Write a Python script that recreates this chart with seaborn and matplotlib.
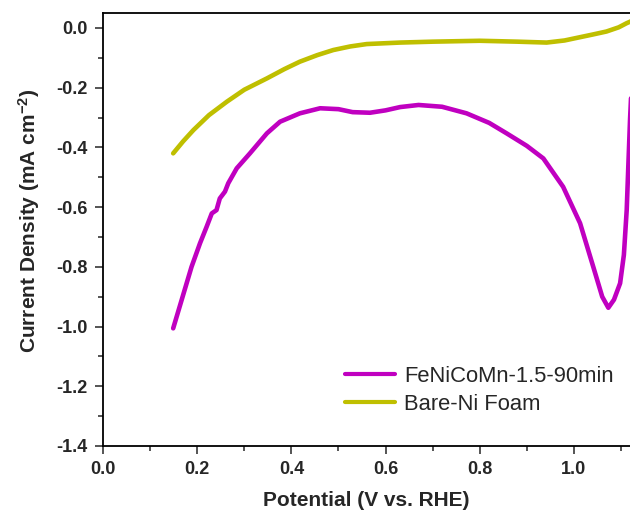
import matplotlib
matplotlib.use("Agg")
import matplotlib.pyplot as plt
import numpy as np
import pandas as pd
import seaborn as sns
from matplotlib.ticker import MultipleLocator

# LSV curves
fenicomn_x = [0.149, 0.167, 0.188, 0.206, 0.220, 0.231, 0.241, 0.248, 0.259, 0.266,
              0.284, 0.312, 0.348, 0.376, 0.418, 0.461, 0.500, 0.530, 0.567, 0.600,
              0.631, 0.670, 0.720, 0.772, 0.820, 0.857, 0.900, 0.935, 0.977, 1.013,
              1.041, 1.060, 1.073, 1.085, 1.098, 1.106, 1.112, 1.119, 1.125]
fenicomn_y = [-1.006, -0.911, -0.800, -0.721, -0.666, -0.621, -0.610, -0.571, -0.548, -0.520,
              -0.470, -0.420, -0.353, -0.314, -0.286, -0.269, -0.272, -0.282, -0.284, -0.276,
              -0.265, -0.258, -0.264, -0.286, -0.318, -0.353, -0.395, -0.437, -0.532, -0.654,
              -0.800, -0.900, -0.937, -0.910, -0.855, -0.760, -0.610, -0.310, -0.100]

bare_x = [0.149, 0.170, 0.192, 0.225, 0.263, 0.300, 0.348, 0.385, 0.418, 0.455, 0.489,
          0.525, 0.560, 0.631, 0.700, 0.800, 0.880, 0.942, 0.980, 1.013, 1.040, 1.069,
          1.095, 1.112, 1.125]
bare_y = [-0.420, -0.380, -0.342, -0.292, -0.247, -0.207, -0.169, -0.138, -0.113, -0.091, -0.074,
          -0.062, -0.054, -0.049, -0.046, -0.043, -0.046, -0.049, -0.042, -0.031, -0.022, -0.012,
          0.002, 0.016, 0.025]

labels = ["FeNiCoMn-1.5-90min", "Bare-Ni Foam"]
colors = ["#C000C0", "#BFBF00"]

x_ticks = [0.0, 0.2, 0.4, 0.6, 0.8, 1.0]
y_ticks = [0.0, -0.2, -0.4, -0.6, -0.8, -1.0, -1.2, -1.4]

df = pd.concat([
    pd.DataFrame({"Potential": fenicomn_x, "Current": fenicomn_y, "Sample": labels[0]}),
    pd.DataFrame({"Potential": bare_x, "Current": bare_y, "Sample": labels[1]}),
], ignore_index=True)

sns.set_style("ticks")
plt.rcParams["font.family"] = ["Liberation Sans", "DejaVu Sans"]
plt.rcParams["mathtext.fontset"] = "custom"
plt.rcParams["mathtext.rm"] = "Liberation Sans:bold"
plt.rcParams["mathtext.it"] = "Liberation Sans:bold"
plt.rcParams["mathtext.bf"] = "Liberation Sans:bold"

fig = plt.figure(figsize=(6.3, 5.12), dpi=100)
ax = fig.add_axes([103 / 630, 66 / 512, 1 - 103 / 630, (446 - 13) / 512])

sns.lineplot(data=df, x="Potential", y="Current", hue="Sample", hue_order=labels,
             palette=colors, sort=False, estimator=None, linewidth=3.3, ax=ax)

ax.set_xlim(0, 1.119)
ax.set_ylim(-1.4, 0.05)
ax.set_xticks(x_ticks)
ax.set_yticks(y_ticks)
ax.xaxis.set_minor_locator(MultipleLocator(0.1))
ax.yaxis.set_minor_locator(MultipleLocator(0.1))
ax.set_xticklabels([f"{v:.1f}" for v in x_ticks])
ax.set_yticklabels([f"{v:.1f}" for v in y_ticks])

ax.tick_params(which="major", direction="out", length=6, width=1.1, pad=5,
               labelsize=13)
ax.tick_params(which="minor", direction="out", length=3.5, width=1.1)
for lab in ax.get_xticklabels() + ax.get_yticklabels():
    lab.set_fontweight("bold")

for s in ["left", "bottom", "top"]:
    ax.spines[s].set_linewidth(1.3)
    ax.spines[s].set_color("black")
ax.spines["right"].set_visible(False)

ax.set_xlabel("Potential (V vs. RHE)", fontsize=15, fontweight="bold", labelpad=9)
ax.set_ylabel("Current Density (mA cm$^{-2}$)", fontsize=15, fontweight="bold", labelpad=10)
ax.yaxis.label.set_y(0.52)

leg = ax.legend(loc="upper left", bbox_to_anchor=(345 / 630, 1 - 366 / 512),
                bbox_transform=fig.transFigure, frameon=False, fontsize=15.8,
                handlelength=2.3, handletextpad=0.4, labelspacing=0.3,
                borderpad=0, borderaxespad=0)
for line in leg.get_lines():
    line.set_linewidth(3)

fig.savefig("out.png", dpi=100)
